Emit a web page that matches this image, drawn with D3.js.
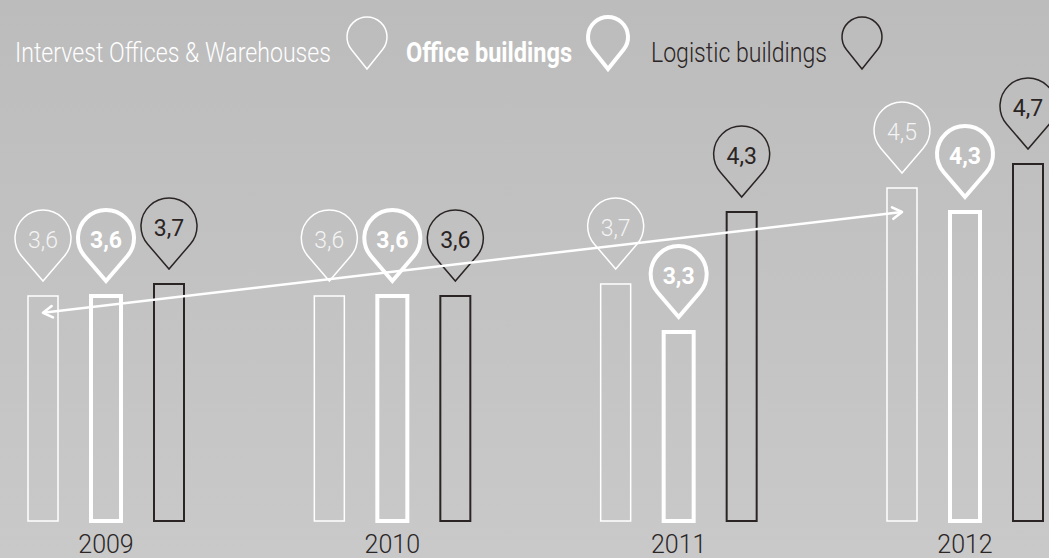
<!DOCTYPE html>
<html>
<head>
<meta charset="utf-8">
<script src="https://cdn.jsdelivr.net/npm/d3@7"></script>
<style>
    html, body { margin: 0; padding: 0; overflow: hidden; }
    text { font-family: Roboto, "Liberation Sans", sans-serif; }
</style>
</head>
<body>
<div id="rent-chart"></div>
<script>
var years = ["2009", "2010", "2011", "2012"];
var seriesNames = ["Intervest Offices & Warehouses", "Office buildings", "Logistic buildings"];
var intervest = [3.6, 3.6, 3.7, 4.5];
var office = [3.6, 3.6, 3.3, 4.3];
var logistic = [3.7, 3.6, 4.3, 4.7];
// arrow runs from the 2009 to the 2012 Intervest bar
var arrowFrom = {year: "2009", value: 3.46};
var arrowTo = {year: "2012", value: 4.3};

var width = 1049, height = 558;

var series = [
    {name: seriesNames[0], values: intervest, stroke: "#ffffff", barWidth: 1.5, pinWidth: 1.5, textColor: "#f4f4f4", weight: 300, legendWeight: 300, legendLength: 316, legendColor: "#ffffff"},
    {name: seriesNames[1], values: office, stroke: "#ffffff", barWidth: 4, pinWidth: 4, textColor: "#ffffff", weight: 700, legendWeight: 700, legendLength: 166, legendColor: "#ffffff"},
    {name: seriesNames[2], values: logistic, stroke: "#2b2424", barWidth: 2, pinWidth: 1.5, textColor: "#2b2424", weight: 400, legendWeight: 300, legendLength: 176, legendColor: "#2b2424"}
];

var comma = d3.formatLocale({decimal: ",", thousands: ".", grouping: [3], currency: ["", "€"]}).format(".1f");

var x = d3.scalePoint().domain(years).range([106, 965]);
var inner = d3.scalePoint().domain(seriesNames).range([-63, 63]);
var y = d3.scaleLinear().domain([1.725, 4.7]).range([521, 164]);

var svg = d3.select("#rent-chart").append("svg")
    .attr("width", width)
    .attr("height", height);

// background gradient
var grad = svg.append("defs").append("linearGradient")
    .attr("id", "bg").attr("x1", 0).attr("y1", 0).attr("x2", 0).attr("y2", 1);
grad.append("stop").attr("offset", "0%").attr("stop-color", "#bcbcbc");
grad.append("stop").attr("offset", "100%").attr("stop-color", "#c9c9c9");
svg.append("rect").attr("width", width).attr("height", height).attr("fill", "url(#bg)");

// pin shape: circle of radius r, tip d below the centre
function pin(cx, cy, r, d) {
    var phi = Math.acos(r / d);
    var sx = r * Math.sin(phi), sy = r * Math.cos(phi);
    return "M" + (cx - sx) + "," + (cy + sy)
        + "A" + r + "," + r + " 0 1 1 " + (cx + sx) + "," + (cy + sy)
        + "L" + cx + "," + (cy + d) + "Z";
}

var barW = 30, pinR = 28, pinD = 43, pinGap = 15;

// Add the bars and pins
series.forEach(function(s) {
    var data = years.map(function(yr, i) { return {year: yr, value: s.values[i]}; });
    var g = svg.append("g");

    g.selectAll("rect.bar")
        .data(data)
        .enter().append("rect")
        .attr("class", "bar")
        .attr("x", function(d) { return x(d.year) + inner(s.name) - barW / 2; })
        .attr("y", function(d) { return y(d.value); })
        .attr("width", barW)
        .attr("height", function(d) { return y(1.725) - y(d.value); })
        .attr("fill", "none")
        .attr("stroke", s.stroke)
        .attr("stroke-width", s.barWidth);

    g.selectAll("path.pin")
        .data(data)
        .enter().append("path")
        .attr("class", "pin")
        .attr("d", function(d) {
            var cx = x(d.year) + inner(s.name);
            var cy = y(d.value) - pinGap - pinD;
            return pin(cx, cy, pinR, pinD);
        })
        .attr("fill", "none")
        .attr("stroke", s.stroke)
        .attr("stroke-width", s.pinWidth)
        .attr("stroke-linejoin", "miter");

    g.selectAll("text.val")
        .data(data)
        .enter().append("text")
        .attr("class", "val")
        .attr("x", function(d) { return x(d.year) + inner(s.name); })
        .attr("y", function(d) { return y(d.value) - pinGap - pinD + 10; })
        .attr("text-anchor", "middle")
        .attr("font-size", 23)
        .attr("font-weight", s.weight)
        .attr("fill", s.textColor)
        .text(function(d) { return comma(d.value); });
});

// Add the arrow
var ax1 = x(arrowFrom.year) + inner(seriesNames[0]), ay1 = y(arrowFrom.value);
var ax2 = x(arrowTo.year) + inner(seriesNames[0]), ay2 = y(arrowTo.value);
svg.append("line")
    .attr("x1", ax1).attr("y1", ay1).attr("x2", ax2).attr("y2", ay2)
    .attr("stroke", "#ffffff").attr("stroke-width", 2.5);

function arrowHead(px, py, ang) {
    var len = 11, spread = 0.55;
    var a1 = ang + Math.PI - spread, a2 = ang + Math.PI + spread;
    return "M" + (px + len * Math.cos(a1)) + "," + (py + len * Math.sin(a1))
        + "L" + px + "," + py
        + "L" + (px + len * Math.cos(a2)) + "," + (py + len * Math.sin(a2));
}
var ang = Math.atan2(ay2 - ay1, ax2 - ax1);
svg.append("path")
    .attr("d", arrowHead(ax2, ay2, ang) + arrowHead(ax1, ay1, ang + Math.PI))
    .attr("fill", "none").attr("stroke", "#ffffff").attr("stroke-width", 2.5)
    .attr("stroke-linecap", "round").attr("stroke-linejoin", "round");

// Add the year labels
svg.selectAll("text.year")
    .data(years)
    .enter().append("text")
    .attr("class", "year")
    .attr("x", function(d) { return x(d); })
    .attr("y", 553)
    .attr("text-anchor", "middle")
    .attr("font-size", 25)
    .attr("font-weight", 300)
    .attr("fill", "#2b2626")
    .text(function(d) { return d; });

// Add the legend
var legendX = [15, 406, 651];
var legendPinX = [367, 608, 862];
series.forEach(function(s, i) {
    svg.append("text")
        .attr("x", legendX[i])
        .attr("y", 62)
        .attr("font-size", 27)
        .attr("font-weight", s.legendWeight)
        .attr("fill", s.legendColor)
        .attr("textLength", s.legendLength)
        .attr("lengthAdjust", "spacingAndGlyphs")
        .text(s.name);
    svg.append("path")
        .attr("d", pin(legendPinX[i], 37, 20, 32))
        .attr("fill", "none")
        .attr("stroke", s.stroke)
        .attr("stroke-width", s.pinWidth);
});
</script>
</body>
</html>
